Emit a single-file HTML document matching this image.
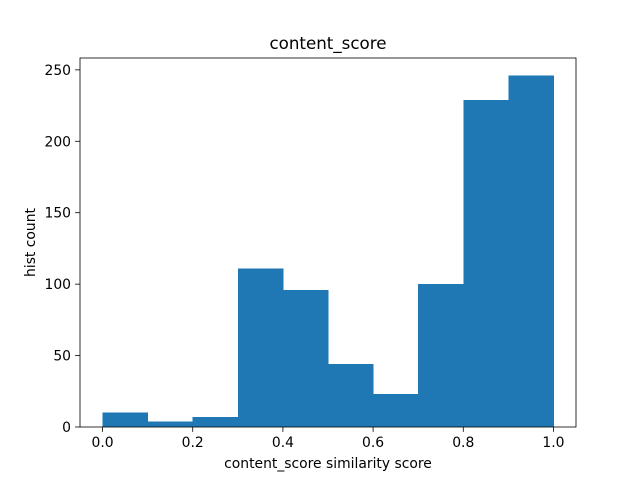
<!DOCTYPE html>
<html><head><meta charset="utf-8"><style>
body{margin:0;background:#fff;}
svg{display:block;font-family:"DejaVu Sans","Liberation Sans",sans-serif;}
</style></head><body>
<svg id="chart" width="640" height="480" viewBox="0 0 640 480" xmlns="http://www.w3.org/2000/svg">
<rect width="640" height="480" fill="#fff"/>
<g id="bars"></g>
<g id="axes"></g>
<text x="328" y="49" font-size="16.7" text-anchor="middle">content_score</text>
<text x="328" y="468" font-size="13.9" text-anchor="middle">content_score similarity score</text>
<text transform="translate(35,242.5) rotate(-90)" font-size="13.9" text-anchor="middle">hist count</text>
</svg>
<script>
const binEdges = [0,0.1,0.2,0.3,0.4,0.5,0.6,0.7,0.8,0.9,1.0];
const counts = [10,4,7,111,96,44,23,100,229,246];
const xTicks = [0,0.2,0.4,0.6,0.8,1.0];
const xTickLabels = ["0.0","0.2","0.4","0.6","0.8","1.0"];
const yTicks = [0,50,100,150,200,250];
const yTickLabels = ["0","50","100","150","200","250"];

const L=80,R=576,T=58,B=427;
const xMin=-0.05,xMax=1.05,yMin=0,yMax=258.3;
const xs=v=>L+(v-xMin)/(xMax-xMin)*(R-L);
const ys=v=>B-(v-yMin)/(yMax-yMin)*(B-T);
const NS="http://www.w3.org/2000/svg";
const bars=document.getElementById('bars'), axes=document.getElementById('axes');
function mk(tag,attrs,parent){const e=document.createElementNS(NS,tag);for(const k in attrs)e.setAttribute(k,attrs[k]);parent.appendChild(e);return e;}
counts.forEach((c,i)=>{
  const x0=xs(binEdges[i]),x1=xs(binEdges[i+1]);
  const r=mk('rect',{x:x0,y:ys(c),width:x1-x0+0.5,height:ys(0)-ys(c),fill:'#1f77b4','shape-rendering':'crispEdges'},bars);
  
  
});
const frame=mk('rect',{x:L,y:T,width:R-L,height:B-T,fill:'none',stroke:'#000','stroke-width':0.8},axes);


xTicks.forEach((v,i)=>{
  const x=xs(v);
  const t=mk('line',{x1:x,x2:x,y1:B,y2:B+4.9,stroke:'#000','stroke-width':0.8},axes);
  
  
  const l=mk('text',{x:x,y:B+20,'font-size':13.9,'text-anchor':'middle'},axes);
  l.textContent=xTickLabels[i];
  
  
});
yTicks.forEach((v,i)=>{
  const y=ys(v);
  const t=mk('line',{x1:L-4.9,x2:L,y1:y,y2:y,stroke:'#000','stroke-width':0.8},axes);
  
  
  const l=mk('text',{x:L-9,y:y+5,'font-size':13.9,'text-anchor':'end'},axes);
  l.textContent=yTickLabels[i];
  
  
});
</script>
</body></html>
